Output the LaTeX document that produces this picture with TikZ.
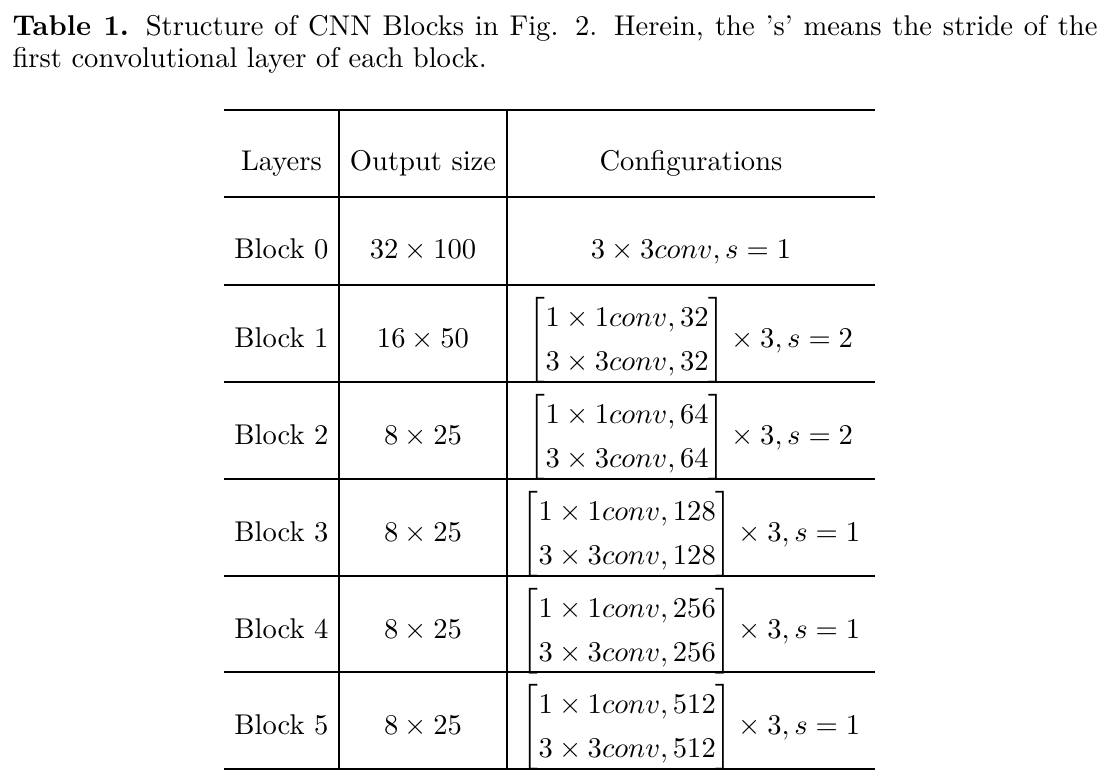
\documentclass[tikz,border=0pt]{standalone}
\usepackage{amsmath}
\renewcommand{\arraystretch}{1.28}
\newcommand{\capfont}{\fontsize{10}{11.5}\selectfont}
\begin{document}
\begin{tikzpicture}[x=0.35pt, y=-0.35pt,
    cell/.style={inner sep=0pt, anchor=base},
    rule/.style={line width=0.45pt}]
    \useasboundingbox (0,0) rectangle (1110,782);
    % caption
    \node[inner sep=0pt, anchor=base west] (cap1) at (12,36) {\capfont\makebox[379.75pt][s]{\textbf{Table 1.} Structure of CNN Blocks in Fig. 2. Herein, the 's' means the stride of the}};
    \node[inner sep=0pt, anchor=base west] (cap2) at (12,68) {\capfont first convolutional layer of each block.};
    % rules
    \foreach \y in {110,197,285,382,479,576,672,769}
        \draw[rule] (224,\y) -- (875,\y);
    \foreach \x in {339,507}
        \draw[rule] (\x,110) -- (\x,769);
    % header
    \node[cell] (hlay) at (281.5,171) {Layers};
    \node[cell] (hout) at (423,171) {Output size};
    \node[cell] (hcfg) at (691,171) {Configurations};
    % block 0
    \node[cell] (l0) at (281.5,259) {Block 0};
    \node[cell] (o0) at (423,259) {$32 \times 100$};
    \node[cell] (c0) at (691,259) {$3 \times 3conv, s = 1$};
    % blocks 1--5
    \foreach \i/\y/\sz/\ch/\s in {1/340/{16 \times 50}/32/2, 2/437/{8 \times 25}/64/2,
        3/534/{8 \times 25}/128/1, 4/631/{8 \times 25}/256/1, 5/727/{8 \times 25}/512/1} {
        \node[inner sep=0pt] (c\i) at (691,\y)
            {$\begin{bmatrix} 1 \times 1conv, \ch \\ 3 \times 3conv, \ch \end{bmatrix} \times 3, s = \s$};
        \node[cell] (l\i) at (281.5,0 |- c\i.base) {Block \i};
        \node[cell] (o\i) at (423,0 |- c\i.base) {$\sz$};
    }
\end{tikzpicture}
\end{document}
